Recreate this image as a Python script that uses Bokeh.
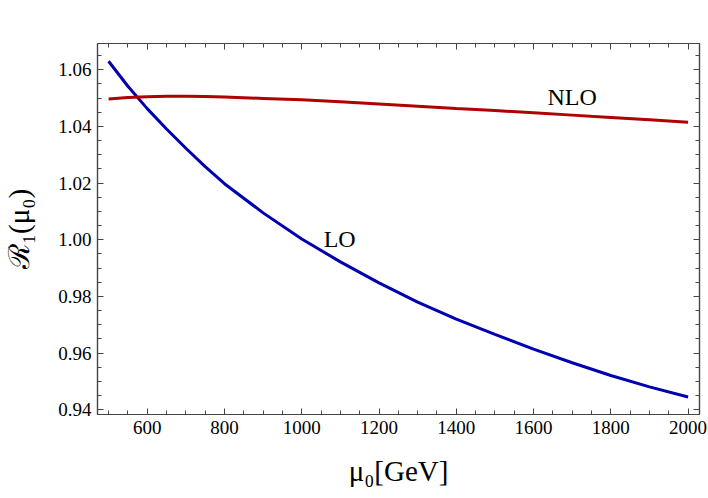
from bokeh.plotting import figure
from bokeh.models import LinearAxis, FixedTicker, Label, Range1d, PrintfTickFormatter, BasicTickFormatter
from bokeh.embed import file_html
from bokeh.resources import INLINE

# ---- data ----
mu0 = [500, 550, 600, 650, 700, 750, 800, 900, 1000, 1100, 1200, 1300, 1400,
       1500, 1600, 1700, 1800, 1900, 2000]
r1_lo = [1.0630, 1.0542, 1.0463, 1.0391, 1.0323, 1.0258, 1.0198, 1.0095, 1.0003,
         0.9922, 0.9848, 0.9780, 0.9720, 0.9666, 0.9614, 0.9566, 0.9521, 0.9481, 0.9445]
r1_nlo = [1.0497, 1.0502, 1.0505, 1.0507, 1.0507, 1.0506, 1.0504, 1.0499, 1.0494,
          1.0487, 1.0479, 1.0471, 1.0463, 1.0456, 1.0448, 1.0440, 1.0432, 1.0424, 1.0415]

x_ticks = [600, 800, 1000, 1200, 1400, 1600, 1800, 2000]
x_minor = [500, 550, 650, 700, 750, 850, 900, 950, 1050, 1100, 1150, 1250, 1300, 1350,
           1450, 1500, 1550, 1650, 1700, 1750, 1850, 1900, 1950]
y_ticks = [0.94, 0.96, 0.98, 1.00, 1.02, 1.04, 1.06]
y_minor = [0.945, 0.95, 0.955, 0.965, 0.97, 0.975, 0.985, 0.99, 0.995, 1.005, 1.01,
           1.015, 1.025, 1.03, 1.035, 1.045, 1.05, 1.055, 1.065]

curve_labels = ["LO", "NLO"]
curve_label_pos = [(1098, 1.0004), (1700, 1.0503)]

x_title = "μ₀[GeV]"
y_title = "ℛ₁(μ₀)"

FONT = "Liberation Serif"
FRAME = "#444444"
BLUE = "#0000b0"
RED = "#b00000"

W, H = 708, 498
p = figure(width=W, height=H, output_backend="svg", toolbar_location=None,
           x_range=Range1d(471.3, 2029.5), y_range=Range1d(0.93834, 1.06928),
           min_border_left=97, min_border_right=9, min_border_top=43, min_border_bottom=84,
           x_axis_location=None, y_axis_location=None)
p.grid.visible = False
p.outline_line_color = FRAME
p.outline_line_width = 1.2
p.background_fill_color = "white"
p.border_fill_color = "white"

xt = FixedTicker(ticks=x_ticks, minor_ticks=x_minor)
yt = FixedTicker(ticks=y_ticks, minor_ticks=y_minor)

def style(ax, show, ticks):
    ax.axis_line_color = FRAME
    ax.axis_line_width = 1.2
    ax.major_tick_line_color = FRAME
    ax.minor_tick_line_color = FRAME
    ax.major_tick_in = 6
    ax.major_tick_out = 0
    ax.minor_tick_in = 4
    ax.minor_tick_out = 0
    ax.major_label_text_font = FONT
    ax.major_label_text_color = "black"
    ax.axis_label_text_font = FONT
    ax.axis_label_text_font_style = "normal"
    ax.axis_label_text_color = "black"
    ax.axis_label_text_font_size = "29px"
    if show:
        ax.major_label_text_font_size = "19px"
        ax.major_label_standoff = 6
    else:
        ax.major_label_overrides = {t: "" for t in ticks}
        ax.major_label_text_font_size = "6px"
        ax.major_label_standoff = 0

xb = LinearAxis(ticker=xt, formatter=BasicTickFormatter(use_scientific=False),
                axis_label=x_title)
style(xb, True, x_ticks)
xb.axis_label_standoff = 18
yl = LinearAxis(ticker=yt, formatter=PrintfTickFormatter(format="%.2f"),
                axis_label=y_title)
style(yl, True, y_ticks)
yl.axis_label_standoff = 20
xa = LinearAxis(ticker=xt)
style(xa, False, x_ticks)
yr = LinearAxis(ticker=yt)
style(yr, False, y_ticks)
p.add_layout(xb, "below")
p.add_layout(yl, "left")
p.add_layout(xa, "above")
p.add_layout(yr, "right")

p.line(mu0, r1_lo, line_color=BLUE, line_width=3)
p.line(mu0, r1_nlo, line_color=RED, line_width=3)

for t, (lx, ly) in zip(curve_labels, curve_label_pos):
    p.add_layout(Label(x=lx, y=ly, text=t, text_align="center", text_baseline="middle",
                       text_font=FONT, text_font_size="24px", text_color="black"))

open("out.html", "w").write(file_html(p, INLINE))
